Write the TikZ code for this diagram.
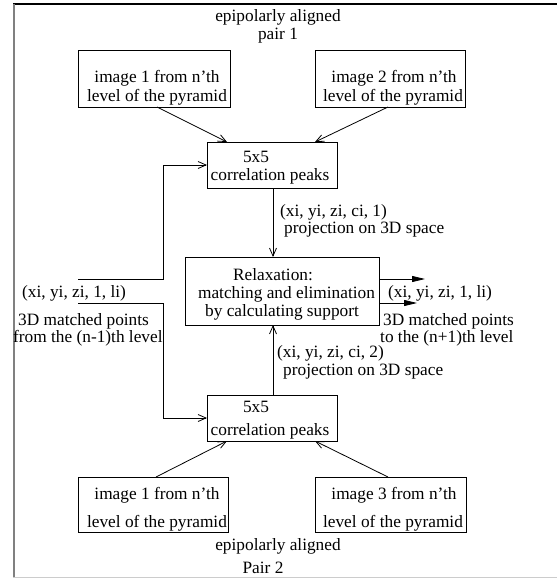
\documentclass[tikz,border=0pt]{standalone}
\usepackage{fontspec}
\setmainfont{Liberation Serif}
\usetikzlibrary{arrows.meta}
\begin{document}
\begin{tikzpicture}[x=1pt,y=-1pt,
  every node/.style={font=\fontsize{17.3}{20}\selectfont},
  box/.style={draw,line width=0.9pt,inner sep=0pt,outer sep=0pt},
  txt/.style={anchor=base,inner sep=0pt},
  ltxt/.style={anchor=base west,inner sep=0pt},
  conn/.style={line width=0.8pt},
  openarr/.style={conn,-{Straight Barb[length=8pt,width=7pt,line width=0.8pt]}},
  fillarr/.style={conn,-{Triangle[length=13pt,width=6pt]}}]
\useasboundingbox (0,0) rectangle (557,578);
% frame
\draw[line width=1.1pt,black] (13,4) -- (557,4);
\draw[line width=1.8pt,gray] (13.8,4) -- (13.8,578);
\draw[line width=1pt,black!20] (13,577.3) -- (557,577.3);
% boxes
\node[box,minimum width=152pt,minimum height=57pt] (imgA) at (154,78.5) {};
\node[box,minimum width=150pt,minimum height=57pt] (imgB) at (390,78.5) {};
\node[box,minimum width=130pt,minimum height=46pt] (corrA) at (272,165) {};
\node[box,minimum width=194pt,minimum height=68pt] (relax) at (282,291) {};
\node[box,minimum width=130pt,minimum height=46pt] (corrB) at (272,418) {};
\node[box,minimum width=150pt,minimum height=55pt] (imgC) at (153,504.5) {};
\node[box,minimum width=151pt,minimum height=55pt] (imgD) at (390.5,504.5) {};
% texts
\node[txt] (t1) at (278,22) {epipolarly aligned};
\node[txt] (t2) at (278,40) {pair 1};
\node[txt] (a1) at (157,82) {image 1 from n’th};
\node[txt] (a2) at (157,101) {level of the pyramid};
\node[txt] (b1) at (394,82) {image 2 from n’th};
\node[txt] (b2) at (393,101) {level of the pyramid};
\node[txt] (c1) at (256,162) {5x5};
\node[txt] (c2) at (270,180) {correlation peaks};
\node[txt] (r1) at (273,280) {Relaxation:};
\node[txt] (r2) at (286.5,298) {matching and elimination};
\node[txt] (r3) at (282,316) {by calculating support};
\node[ltxt] (p1) at (280,216) {(xi, yi, zi, ci, 1)};
\node[ltxt] (p2) at (284,233) {projection on 3D space};
\node[ltxt] (q1) at (388,297) {(xi, yi, zi, 1, li)};
\node[ltxt] (q2) at (383,325) {3D matched points};
\node[ltxt] (q3) at (380,342) {to the (n+1)th level};
\node[ltxt] (s1) at (22,297) {(xi, yi, zi, 1, li)};
\node[ltxt] (s2) at (18,325) {3D matched points};
\node[ltxt] (s3) at (13,342) {from the (n-1)th level};
\node[ltxt] (u1) at (277,357) {(xi, yi, zi, ci, 2)};
\node[ltxt] (u2) at (283,375) {projection on 3D space};
\node[txt] (d1) at (256,412) {5x5};
\node[txt] (d2) at (270,435) {correlation peaks};
\node[txt] (e1) at (157,499) {image 1 from n’th};
\node[txt] (e2) at (157,527) {level of the pyramid};
\node[txt] (f1) at (394,499) {image 3 from n’th};
\node[txt] (f2) at (393,527) {level of the pyramid};
\node[txt] (g1) at (278,550) {epipolarly aligned};
\node[txt] (g2) at (263,573) {Pair 2};
% connectors
\draw[openarr] (imgA.south -| 157,0) -- (corrA.north -| 227,0);
\draw[openarr] (imgB.south -| 388,0) -- (corrA.north -| 315,0);
\draw[openarr] (corrA.south -| 273,0) -- (relax.north -| 273,0);
\draw[openarr] (corrB.north -| 273,0) -- (relax.south -| 273,0);
\draw[openarr] (imgC.north -| 156,0) -- (corrB.south -| 227,0);
\draw[openarr] (imgD.north -| 388,0) -- (corrB.south -| 315,0);
\coordinate (inA) at (78,279);
\coordinate (inB) at (78,303);
\draw[openarr] (inA) -- (163,279) |- (corrA.west);
\draw[openarr] (inB) -- (163,303) |- (corrB.west);
\coordinate (outA) at (425,279);
\coordinate (outB) at (417,303);
\draw[fillarr] (relax.east |- outA) -- (outA);
\draw[fillarr] (relax.east |- outB) -- (outB);
\end{tikzpicture}
\end{document}
